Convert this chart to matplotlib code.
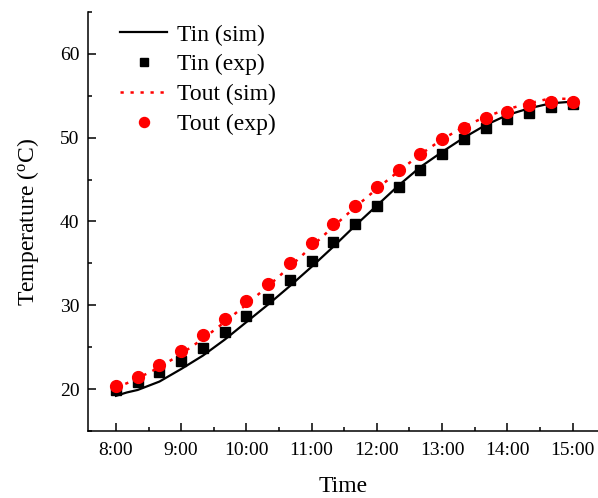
import matplotlib
matplotlib.use('Agg')
import matplotlib.pyplot as plt
from matplotlib.ticker import MultipleLocator, FuncFormatter

plt.rcParams['font.family'] = 'Liberation Serif'

# experimental points every 20 min
exp_times = ["8:00", "8:20", "8:40", "9:00", "9:20", "9:40", "10:00", "10:20", "10:40",
             "11:00", "11:20", "11:40", "12:00", "12:20", "12:40", "13:00", "13:20",
             "13:40", "14:00", "14:20", "14:40", "15:00"]
tin_exp = [19.9, 20.8, 22.0, 23.4, 24.9, 26.8, 28.7, 30.7, 33.0, 35.3, 37.5,
           39.7, 41.9, 44.1, 46.1, 48.0, 49.8, 51.1, 52.2, 53.0, 53.6, 54.0]
tout_exp = [20.4, 21.5, 22.9, 24.6, 26.4, 28.4, 30.5, 32.6, 35.0, 37.4, 39.7,
            41.9, 44.1, 46.1, 48.0, 49.8, 51.2, 52.3, 53.1, 53.9, 54.2, 54.2]

# simulated curves
sim_times = ["8:00", "8:10", "8:20", "8:40", "9:00", "9:20", "9:40", "10:00", "10:20",
             "10:40", "11:00", "11:20", "11:40", "12:00", "12:20", "12:40", "13:00",
             "13:20", "13:40", "14:00", "14:20", "14:40", "15:00"]
tin_sim = [19.2, 19.6, 19.9, 20.9, 22.4, 24.0, 25.9, 28.0, 30.1, 32.3, 34.6, 37.0,
           39.5, 41.9, 44.3, 46.5, 48.3, 50.0, 51.5, 52.7, 53.5, 54.1, 54.3]
tout_sim = [20.2, 20.7, 21.3, 22.6, 24.2, 26.0, 28.0, 30.1, 32.3, 34.6, 37.0, 39.4,
            41.7, 43.9, 46.0, 48.0, 49.8, 51.3, 52.5, 53.4, 54.1, 54.7, 54.6]


def to_hours(s):
    h, m = s.split(":")
    return int(h) + int(m) / 60.0


xe = [to_hours(t) for t in exp_times]
xs = [to_hours(t) for t in sim_times]

fig = plt.figure(figsize=(5.98, 4.98), dpi=100)
ax = fig.add_axes([0.147, 0.1345, 0.853, 0.8415])

ax.plot(xs, tin_sim, color='black', lw=1.6, label='Tin (sim)')
ax.plot(xe, tin_exp, 's', color='black', ms=7.5, label='Tin (exp)')
ax.plot(xs, tout_sim, color='red', lw=1.8, ls=(0, (1.3, 2.7)), label='Tout (sim)')
ax.plot(xe, tout_exp, 'o', color='red', ms=8.5, label='Tout (exp)')

ax.set_xlim(7.57, 15.39)
ax.set_ylim(15, 65)
ax.xaxis.set_major_locator(MultipleLocator(1))
ax.xaxis.set_minor_locator(MultipleLocator(0.5))
ax.xaxis.set_major_formatter(FuncFormatter(lambda v, p: "%d:00" % round(v)))
ax.yaxis.set_major_locator(MultipleLocator(10))
ax.yaxis.set_minor_locator(MultipleLocator(5))

ax.spines['top'].set_visible(False)
ax.spines['right'].set_visible(False)
for s in ['left', 'bottom']:
    ax.spines[s].set_linewidth(1.1)
ax.tick_params(which='major', direction='in', length=6, width=1.1, labelsize=14, pad=6)
ax.tick_params(axis='x', which='major', pad=8)
ax.tick_params(which='minor', direction='in', length=3, width=1.1)

ax.set_xlabel("Time", fontsize=17, labelpad=12)
ax.set_ylabel("Temperature ($\\mathregular{^oC}$)", fontsize=17, labelpad=14)

ax.legend(loc='upper left', frameon=False, fontsize=17, handlelength=2.0,
          handletextpad=0.4, labelspacing=0.35, markerscale=0.85,
          bbox_to_anchor=(0.035, 1.005), borderaxespad=0.2)

plt.savefig('out.png', dpi=100)
